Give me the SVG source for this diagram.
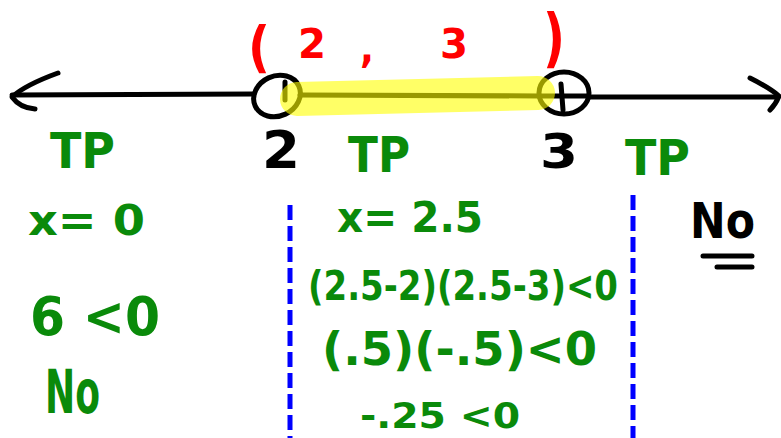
<svg xmlns="http://www.w3.org/2000/svg" width="781" height="438" viewBox="0 0 781 438">
<style>
.g{fill:#0a8a0a;font-family:"DejaVu Sans",sans-serif;font-weight:bold}
.k{fill:#000;font-family:"DejaVu Sans",sans-serif;font-weight:bold}
.r{fill:#ff0000;font-family:"DejaVu Sans",sans-serif;font-weight:bold}
.ln{fill:none;stroke:#000;stroke-width:5;stroke-linecap:round;stroke-linejoin:round}
.dash{fill:none;stroke:#0000ff;stroke-width:5;stroke-dasharray:15,6}
</style>
<rect width="781" height="438" fill="#fff"/>
<g id="numberline">
<path class="ln" d="M12 95 L254 94 M300 95 L540 96 M588 97 L778 97"/>
<path class="ln" d="M58 73 Q25 85 12 97 Q20 108 35 109"/>
<path class="ln" d="M750 78 Q770 88 779 96 Q776 104 770 110"/>
</g>
<g id="point2">
<ellipse class="ln" cx="277" cy="96" rx="24" ry="20" transform="rotate(-25 277 96)"/>
<path class="ln" d="M285 82 L285 100"/>
</g>
<g id="point3">
<ellipse class="ln" cx="564" cy="93" rx="25" ry="21"/>
<path class="ln" d="M561 84 L563 110 M540 96 L588 96"/>
</g>
<g id="highlight">
<path d="M297 99 L538 93" fill="none" stroke="#ffff00" stroke-opacity="0.6" stroke-width="34" stroke-linecap="round"/>
</g>
<g id="interval">
<text class="r" x="248" y="66" font-size="56" textLength="22" lengthAdjust="spacingAndGlyphs">(</text>
<text class="r" x="298" y="58" font-size="40" textLength="28" lengthAdjust="spacingAndGlyphs">2</text>
<text class="r" x="360" y="62" font-size="40" textLength="14" lengthAdjust="spacingAndGlyphs">,</text>
<text class="r" x="440" y="58" font-size="40" textLength="28" lengthAdjust="spacingAndGlyphs">3</text>
<text class="r" x="543" y="60" font-size="64" textLength="22" lengthAdjust="spacingAndGlyphs">)</text>
</g>
<g id="labels">
<text class="g" x="50" y="168" font-size="50" textLength="65" lengthAdjust="spacingAndGlyphs">TP</text>
<text class="k" x="262" y="168" font-size="52" textLength="38" lengthAdjust="spacingAndGlyphs">2</text>
<text class="g" x="348" y="172" font-size="50" textLength="62" lengthAdjust="spacingAndGlyphs">TP</text>
<text class="k" x="540" y="168" font-size="48" textLength="38" lengthAdjust="spacingAndGlyphs">3</text>
<text class="g" x="625" y="175" font-size="50" textLength="65" lengthAdjust="spacingAndGlyphs">TP</text>
</g>
<g id="dividers">
<path class="dash" d="M290 205 L290 438"/>
<path class="dash" d="M633 195 L633 438"/>
</g>
<g id="left-test">
<text class="g" x="28" y="235" font-size="42" textLength="117" lengthAdjust="spacingAndGlyphs">x= 0</text>
<text class="g" x="30" y="335" font-size="54" textLength="130" lengthAdjust="spacingAndGlyphs">6 &lt;0</text>
<text class="g" x="45" y="413" font-size="60" textLength="55" lengthAdjust="spacingAndGlyphs">No</text>
</g>
<g id="middle-test">
<text class="g" x="337" y="232" font-size="42" textLength="146" lengthAdjust="spacingAndGlyphs">x= 2.5</text>
<text class="g" x="308" y="300" font-size="40" textLength="310" lengthAdjust="spacingAndGlyphs">(2.5-2)(2.5-3)&lt;0</text>
<text class="g" x="322" y="365" font-size="46" textLength="275" lengthAdjust="spacingAndGlyphs">(.5)(-.5)&lt;0</text>
<text class="g" x="360" y="428" font-size="36" textLength="160" lengthAdjust="spacingAndGlyphs">-.25 &lt;0</text>
</g>
<g id="right-test">
<text class="k" x="690" y="238" font-size="50" textLength="65" lengthAdjust="spacingAndGlyphs">No</text>
<path class="ln" d="M703 256 L752 256 M717 267 L752 267"/>
</g>
</svg>
